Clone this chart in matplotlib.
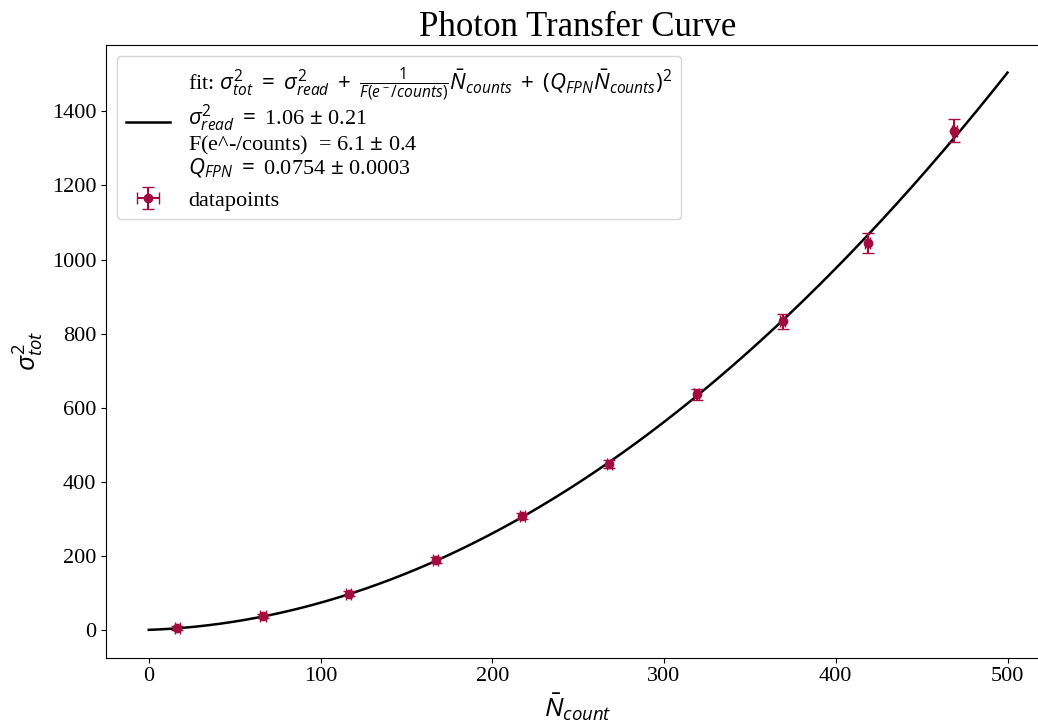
import numpy as np
import matplotlib
matplotlib.use('Agg')
from matplotlib import pyplot as plt

plt.rcParams['font.family'] = 'Liberation Serif'
plt.rcParams['mathtext.fontset'] = 'custom'
plt.rcParams['mathtext.rm'] = 'Open Sans'
plt.rcParams['mathtext.it'] = 'Open Sans:italic'
plt.rcParams['mathtext.bf'] = 'Open Sans:bold'

# Mean counts and total variance per exposure
n_counts = [16.5, 66.5, 116.5, 167, 217.5, 268, 319, 369, 418.5, 469]
var_tot = [6, 38, 99, 190, 308, 448, 637, 833, 1046, 1348]
n_err = [1.5, 1.5, 1.5, 1.5, 1.5, 1.5, 1.5, 1.5, 1.5, 1.5]
var_err = [5, 6, 7, 8, 9, 11, 15, 20, 27, 32]

# Fit parameters
sig_read = 1.06
gain = 6.1
q_fpn = 0.0754

color = '#a30b3e'

fig = plt.figure(figsize=(10.38, 7.22), dpi=100)
ax = fig.add_axes([0.102, 0.089, 0.91, 0.849])

x = np.linspace(0, 500, 500)
fit = sig_read + x / gain + (q_fpn * x) ** 2
label = (r'fit: $\sigma^2_{tot}\;=\;\sigma^2_{read}\;+\;\frac{1}{F(e^-/counts)}\bar{N}_{counts}\;+\;(Q_{FPN}\bar{N}_{counts})^2$'
         '\n' r'$\sigma^2_{read}\;=$ 1.06 $\pm$ 0.21'
         '\n' 'F(e^-/counts)  = 6.1 $\\pm$ 0.4'
         '\n' r'$Q_{FPN}\;=$ 0.0754 $\pm$ 0.0003')
ax.plot(x, fit, color='k', lw=1.8, label=label)
ax.errorbar(n_counts, var_tot, xerr=n_err, yerr=var_err, fmt='o', color=color,
            markersize=6, capsize=4, elinewidth=1.5, label='datapoints')

ax.set_xlim(-25, 525)
ax.set_title('Photon Transfer Curve', fontsize=25)
ax.set_xlabel(r'$\bar{N}_{count}$', fontsize=19)
ax.set_ylabel(r'$\sigma^2_{tot}$', fontsize=19)
ax.tick_params(labelsize=16)
leg = ax.legend(loc='upper left', fontsize=16, handlelength=2.0, labelspacing=0.45)
for t in leg.get_texts():
    t.set_linespacing(1.0)

fig.savefig('out.png', dpi=100)
